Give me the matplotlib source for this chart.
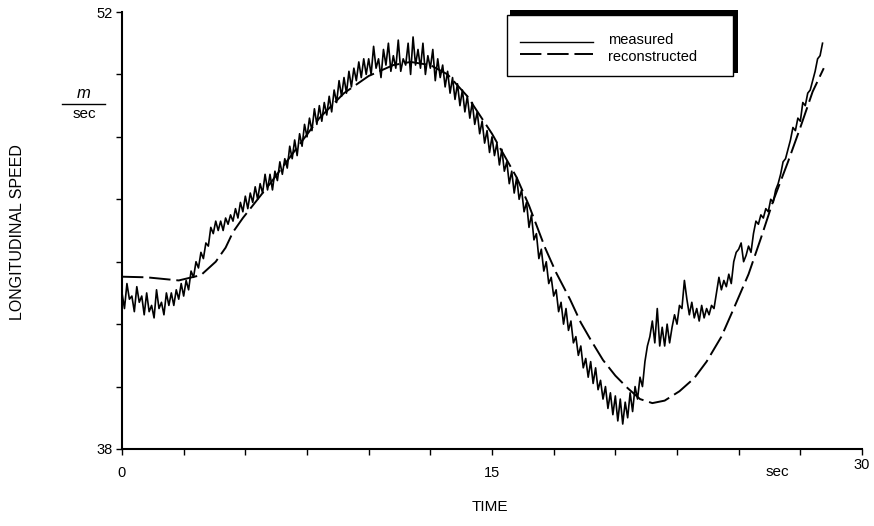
import numpy as np
import matplotlib
matplotlib.use('Agg')
import matplotlib.pyplot as plt
from matplotlib.patches import Rectangle
from matplotlib.lines import Line2D

plt.rcParams['font.family'] = ['Liberation Sans', 'DejaVu Sans']

dt = 0.1
measured = [
    43.0, 42.5, 43.3, 42.8, 42.9, 42.4, 43.2, 42.7, 42.9, 42.3,
    43.0, 42.4, 42.6, 42.2, 43.1, 42.5, 42.7, 42.3, 43.0, 42.6,
    43.0, 42.6, 43.1, 42.8, 43.3, 42.9, 43.4, 43.1, 43.7, 43.5,
    44.0, 43.8, 44.3, 44.1, 44.6, 44.5, 45.1, 44.9, 45.3, 45.0,
    45.3, 45.0, 45.4, 45.2, 45.5, 45.3, 45.7, 45.4, 45.9, 45.6,
    46.1, 45.7, 46.2, 45.9, 46.4, 46.0, 46.5, 46.2, 46.8, 46.3,
    46.8, 46.3, 46.9, 46.6, 47.2, 46.8, 47.3, 47.0, 47.7, 47.3,
    47.9, 47.4, 48.1, 47.7, 48.4, 48.0, 48.6, 48.2, 48.9, 48.4,
    49.0, 48.5, 49.1, 48.7, 49.3, 48.8, 49.5, 49.1, 49.8, 49.3,
    49.9, 49.4, 50.1, 49.6, 50.2, 49.8, 50.4, 49.9, 50.5, 50.0,
    50.5, 50.0, 50.9, 50.2, 50.5, 49.9, 50.8, 50.3, 51.0, 50.1,
    50.6, 50.2, 51.1, 50.1, 50.5, 50.3, 51.0, 50.0, 51.2, 50.3,
    50.8, 50.2, 51.0, 50.0, 50.6, 50.2, 50.8, 49.8, 50.5, 49.9,
    50.3, 49.6, 50.1, 49.4, 49.9, 49.2, 49.7, 49.0, 49.5, 48.8,
    49.3, 48.6, 49.1, 48.4, 48.8, 48.1, 48.5, 47.8, 48.2, 47.5,
    48.0, 47.4, 47.8, 47.1, 47.6, 46.9, 47.2, 46.5, 46.9, 46.2,
    46.7, 46.0, 46.3, 45.6, 45.9, 45.1, 45.5, 44.7, 44.9, 44.1,
    44.4, 43.7, 44.0, 43.3, 43.5, 42.9, 43.1, 42.4, 42.7, 42.0,
    42.5, 41.8, 42.1, 41.4, 41.6, 41.0, 41.3, 40.6, 40.9, 40.3,
    40.8, 40.1, 40.6, 39.9, 40.2, 39.6, 40.0, 39.3, 39.8, 39.1,
    39.7, 38.9, 39.6, 38.8, 39.5, 39.0, 39.8, 39.2, 40.0, 39.6,
    40.3, 40.0, 40.8, 41.3, 41.6, 42.1, 41.4, 42.5, 41.3, 41.9,
    41.3, 42.0, 41.4, 41.9, 42.3, 42.0, 42.6, 42.5, 43.4, 42.8,
    42.3, 42.7, 42.2, 42.5, 42.1, 42.6, 42.2, 42.5, 42.3, 42.6,
    42.5, 43.0, 43.5, 43.1, 43.4, 43.2, 43.6, 43.3, 44.0, 44.3,
    44.4, 44.6, 44.0, 44.2, 44.5, 44.3, 44.9, 45.3, 45.2, 45.5,
    45.4, 45.7, 45.6, 46.0, 45.9, 46.3, 46.5, 46.8, 47.2, 47.3,
    47.6, 47.9, 48.3, 48.2, 48.6, 48.5, 49.1, 49.0, 49.4, 49.5,
    49.8, 50.1, 50.5, 50.6, 51.0,
]
time = np.arange(len(measured)) * dt

# reconstructed speed
rec_time = [0, 1, 2.3, 3.2, 3.8, 4.2, 4.5, 4.9, 5.5, 6.0, 7.0, 8.0, 9.0,
            10.0, 11.0, 11.7, 12.5, 13.2, 14.0, 15.0, 16.0, 16.5, 17.15,
            17.6, 18.16, 18.6, 19.0, 19.5, 20.0, 20.5, 21.0, 21.5, 22.0,
            22.6, 23.2, 23.7, 24.3, 24.8, 25.4, 25.9, 26.4, 27.0, 27.5,
            28.0, 28.45]
reconstructed = [43.52, 43.5, 43.4, 43.57, 44.0, 44.45, 44.95, 45.4, 46.0,
                 46.5, 47.55, 48.6, 49.4, 49.95, 50.3, 50.4, 50.3, 50.0,
                 49.3, 48.1, 46.7, 45.8, 44.45, 43.65, 42.8, 42.05, 41.5,
                 40.85, 40.35, 39.95, 39.6, 39.47, 39.55, 39.85, 40.27,
                 40.8, 41.6, 42.5, 43.6, 44.75, 45.95, 47.2, 48.3, 49.45,
                 50.2]

W, H = 874, 526


def px(x, y):
    return x / W, 1 - y / H


fig = plt.figure(figsize=(W / 100, H / 100), dpi=100)
ax = fig.add_axes([122 / W, 77 / H, 740 / W, 437 / H])

ax.plot(time, measured, color='black', lw=1.2)
ax.plot(rec_time, reconstructed, color='black', lw=1.4, dashes=(11, 3))

ax.set_xlim(0, 30)
ax.set_ylim(38, 52)
for s in ['top', 'right']:
    ax.spines[s].set_visible(False)
for s in ['left', 'bottom']:
    ax.spines[s].set_linewidth(1.5)

xt = np.arange(0, 30.1, 2.5)
ax.set_xticks(xt)
ax.set_xticklabels(['0' if v == 0 else '15' if v == 15 else '' for v in xt])
yt = np.arange(38, 53, 2)
ax.set_yticks(yt)
ax.set_yticklabels(['38' if v == 38 else '52' if v == 52 else '' for v in yt])
ax.tick_params(direction='out', length=4, width=1, labelsize=10.5)
ax.tick_params(axis='x', pad=8)
ax.tick_params(axis='y', pad=3)

fig.text(*px(862, 465), '30', fontsize=10.5, ha='center', va='center')
fig.text(*px(777, 472), 'sec', fontsize=11, ha='center', va='center')
fig.text(*px(490, 507), 'TIME', fontsize=11, ha='center', va='center')
fig.text(*px(18, 232), 'LONGITUDINAL SPEED', fontsize=11.5, rotation=90,
         ha='center', va='center')

# unit m/sec
fig.text(*px(84, 93), 'm', fontsize=12, style='italic', ha='center', va='center')
fig.add_artist(Line2D([62 / W, 105 / W], [1 - 104 / H, 1 - 104 / H],
                      color='black', lw=1.0, transform=fig.transFigure))
fig.text(*px(84, 114), 'sec', fontsize=11, ha='center', va='center')

# legend box with heavy top/right edge
x0, y0 = px(510, 73)
fig.add_artist(Rectangle((x0, y0), 228 / W, 63 / H, facecolor='black',
                         edgecolor='none', transform=fig.transFigure))
x0, y0 = px(507, 76)
fig.add_artist(Rectangle((x0, y0), 226 / W, 61 / H, facecolor='white',
                         edgecolor='black', lw=1.0, transform=fig.transFigure))
fig.add_artist(Line2D([520 / W, 593 / W], [1 - 42 / H, 1 - 42 / H],
                      color='black', lw=1.0, transform=fig.transFigure))
fig.add_artist(Line2D([520 / W, 593 / W], [1 - 54 / H, 1 - 54 / H],
                      color='black', lw=1.4, dashes=(11, 3),
                      transform=fig.transFigure))
fig.text(*px(608, 40), 'measured', fontsize=10.5, ha='left', va='center')
fig.text(*px(608, 57), 'reconstructed', fontsize=10.5, ha='left', va='center')

fig.savefig('out.png', dpi=100)
